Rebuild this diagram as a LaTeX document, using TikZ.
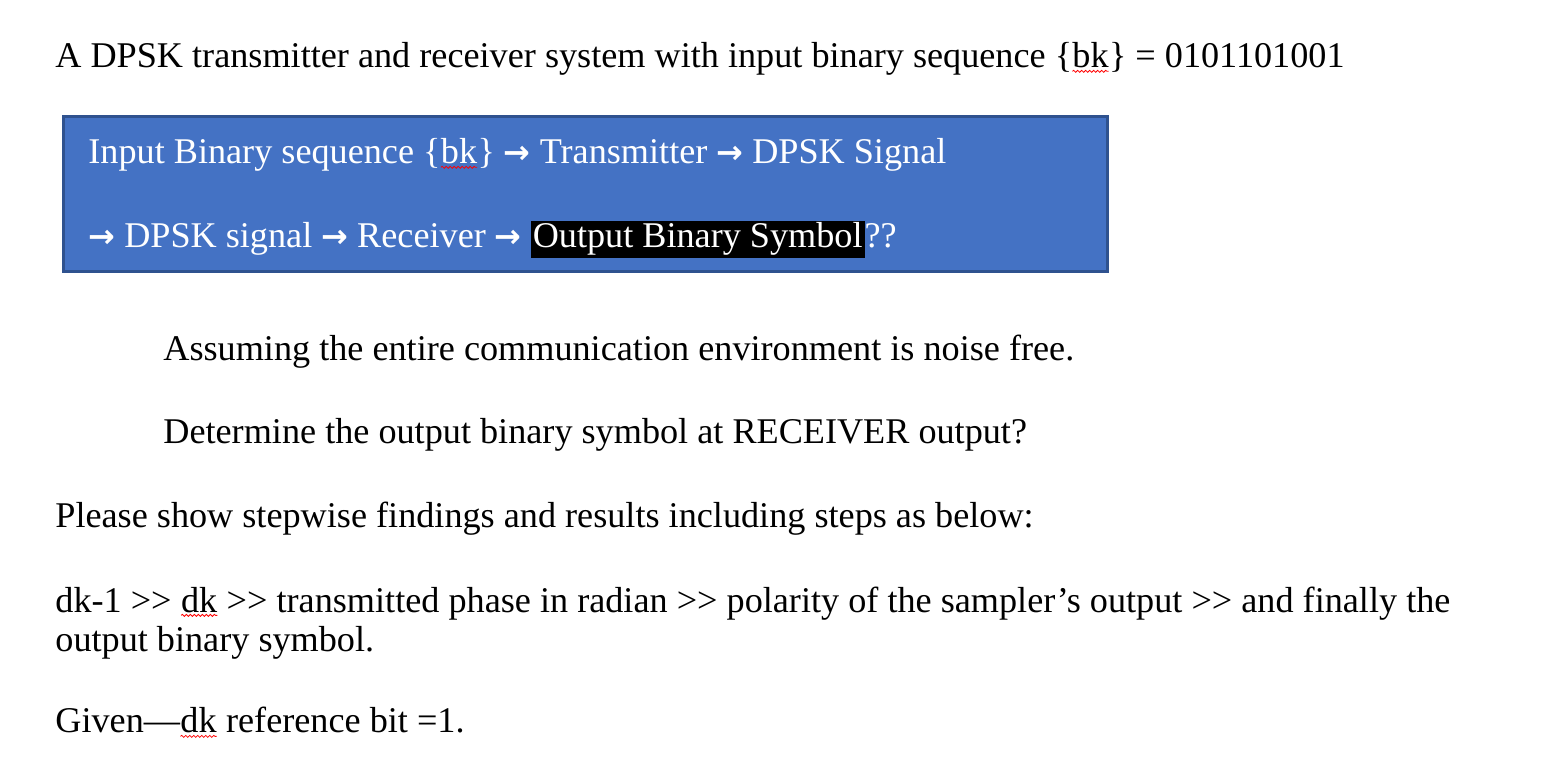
\documentclass[tikz,border=0pt]{standalone}
\usepackage{fontspec}
\setmainfont[Ligatures=NoCommon]{Liberation Serif}
\newfontfamily\arr{DejaVu Sans}
\usetikzlibrary{decorations.pathmorphing}
\definecolor{boxblue}{HTML}{4472C4}
\definecolor{boxedge}{HTML}{2F528F}
\newcommand\ar{{\arr\bfseries\fontsize{16}{20}\selectfont →}}
\newcommand\dgt{>{}>}
\newcommand\wavy[1]{\tikz[baseline=(w.base)]{\node[inner sep=0pt,outer sep=0pt](w){#1};\draw[red,line width=0.4pt,decorate,decoration={snake,amplitude=0.5pt,segment length=2pt}]([yshift=-1.5pt]w.south west)--([yshift=-1.5pt]w.south east);}}
\begin{document}
\begin{tikzpicture}[x=0.5pt,y=-0.5pt,
  txt/.style={anchor=base west,inner sep=0pt,font=\fontsize{18.1}{22}\selectfont}]
\useasboundingbox[fill=white] (0,0) rectangle (1554,764);
\node[txt] (l1) at (55,68) {A DPSK transmitter and receiver system with input binary sequence \{\wavy{bk}\} = 0101101001};
\draw[boxedge,line width=1.5pt,fill=boxblue] (63,117) rectangle (1107,272);
\node[txt,text=white] (b1) at (88,164) {Input Binary sequence \{\wavy{bk}\} \ar{} Transmitter \ar{} DPSK Signal};
\node[txt,text=white] (b2) at (88,248) {\ar{} DPSK signal \ar{} Receiver \ar{} {\setlength\fboxsep{1pt}\colorbox{black}{Output Binary Symbol}}??};
\node[txt] (a1) at (163,361) {Assuming the entire communication environment is noise free.};
\node[txt] (a2) at (163,444) {Determine the output binary symbol at RECEIVER output?};
\node[txt] (a3) at (55,528) {Please show stepwise findings and results including steps as below:};
\node[txt] (a4) at (55,612) {dk-1 \dgt{} \wavy{dk} \dgt{} transmitted phase in radian \dgt{} polarity of the sampler’s output \dgt{} and finally the};
\node[txt] (a5) at (55,652) {output binary symbol.};
\node[txt] (a6) at (55,733) {Given—\wavy{dk} reference bit =1.};
\end{tikzpicture}
\end{document}
